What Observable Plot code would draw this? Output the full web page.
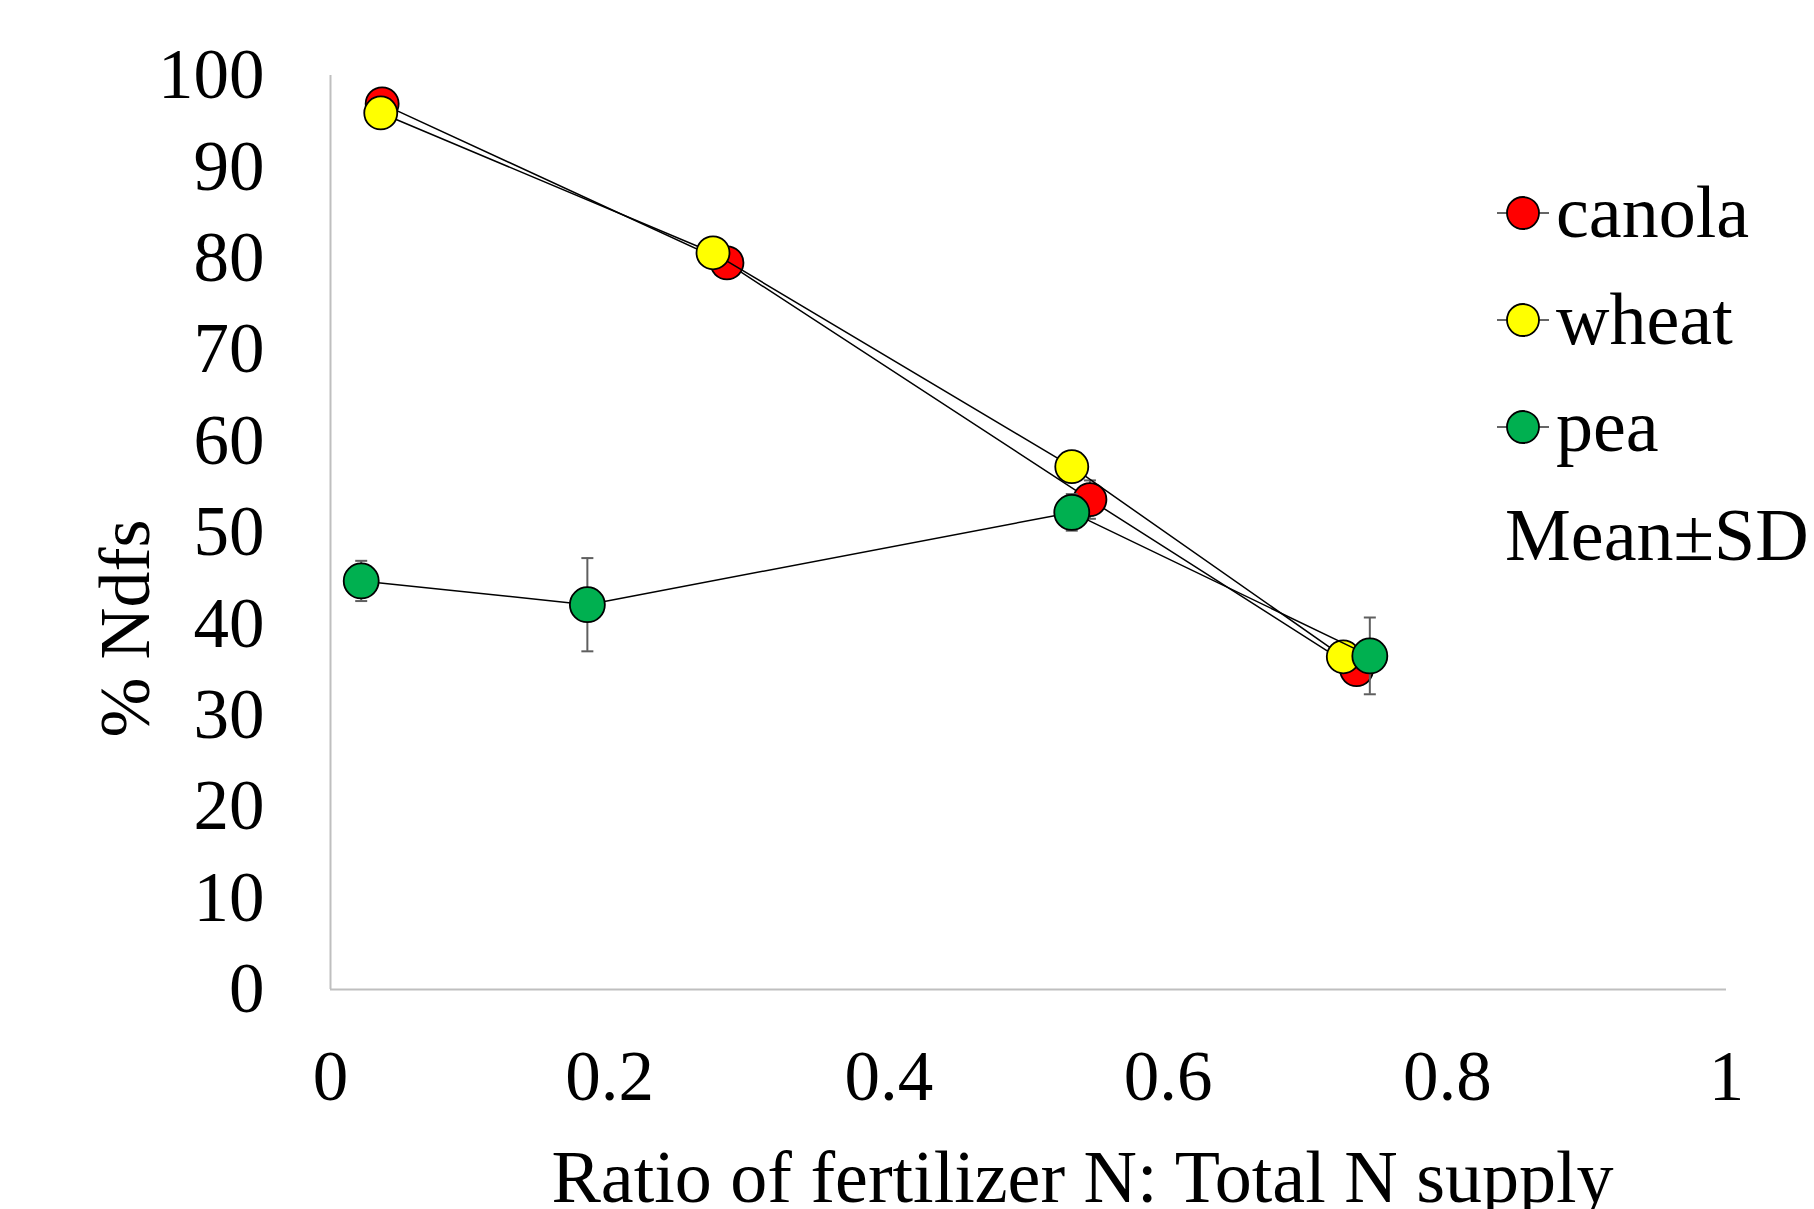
<!DOCTYPE html>
<html>
<head>
<meta charset="utf-8">
<script src="https://cdn.jsdelivr.net/npm/d3@7"></script>
<script src="https://cdn.jsdelivr.net/npm/@observablehq/plot@0.6"></script>
<style>
  html, body { margin: 0; padding: 0; background: #ffffff; }
  #chart { width: 1814px; height: 1209px; overflow: hidden; }
</style>
</head>
<body>
<div id="chart"></div>
<script>
// ---- data ----
const crops = ["canola", "wheat", "pea"];
const cropColors = ["#ff0000", "#ffff00", "#00b050"];

const canolaX = [0.037, 0.284, 0.544, 0.735];
const canolaY = [96.9, 79.5, 53.6, 35.0];
const canolaSD = [0.5, 0.5, 2.1, 1.0];

const wheatX = [0.036, 0.274, 0.531, 0.7255];
const wheatY = [95.9, 80.6, 57.2, 36.4];
const wheatSD = [0.5, 0.5, 1.0, 1.0];

const peaX = [0.022, 0.184, 0.531, 0.7445];
const peaY = [44.7, 42.1, 52.2, 36.5];
const peaSD = [2.2, 5.1, 2.0, 4.2];

const xTicks = [0, 0.2, 0.4, 0.6, 0.8, 1];
const xTickLabels = ["0", "0.2", "0.4", "0.6", "0.8", "1"];
const yTicks = [0, 10, 20, 30, 40, 50, 60, 70, 80, 90, 100];
const yTickLabels = ["0", "10", "20", "30", "40", "50", "60", "70", "80", "90", "100"];

const xTitle = "Ratio of fertilizer N: Total N supply";
const yTitle = "% Ndfs";
const legendNote = "Mean\u00b1SD";

// ---- build rows ----
const seriesX = [canolaX, wheatX, peaX];
const seriesY = [canolaY, wheatY, peaY];
const seriesSD = [canolaSD, wheatSD, peaSD];
const rows = [];
crops.forEach((c, k) => {
  seriesX[k].forEach((x, i) => {
    rows.push({crop: c, x, y: seriesY[k][i], lo: seriesY[k][i] - seriesSD[k][i], hi: seriesY[k][i] + seriesSD[k][i]});
  });
});

const font = '"Liberation Serif", "Times New Roman", Times, serif';
const capSymbol = {
  draw(context, size) {
    const w = Math.sqrt(size / Math.PI);
    context.moveTo(-w, 0);
    context.lineTo(w, 0);
  }
};

const marks = [
  Plot.ruleX([0], {y1: 0, y2: 100, stroke: "#bfbfbf", strokeWidth: 2}),
  Plot.ruleY([0], {x1: 0, x2: 1, stroke: "#bfbfbf", strokeWidth: 2}),
  Plot.axisY({ticks: yTicks, tickFormat: (d, i) => yTickLabels[i], tickSize: 0, tickPadding: 66, fontSize: 71, fontFamily: font, fill: "#000", label: null}),
  Plot.axisX({ticks: xTicks, tickFormat: (d, i) => xTickLabels[i], tickSize: 0, tickPadding: 60, fontSize: 71, fontFamily: font, fill: "#000", label: null}),
  Plot.text([yTitle], {frameAnchor: "left", rotate: -90, dx: -182, dy: 96, lineAnchor: "bottom", textAnchor: "middle", fontSize: 72, fontFamily: font, fill: "#000"}),
  Plot.text([xTitle], {frameAnchor: "bottom", dx: 54, dy: 212, lineAnchor: "bottom", textAnchor: "middle", fontSize: 74, fontFamily: font, fill: "#000"})
];

crops.forEach((c, k) => {
  const d = rows.filter(r => r.crop === c);
  marks.push(
    Plot.ruleX(d, {x: "x", y1: "lo", y2: "hi", stroke: "#5f5f5f", strokeWidth: 2}),
    Plot.dot(d, {x: "x", y: "hi", symbol: capSymbol, r: 6, stroke: "#5f5f5f", strokeWidth: 2, fill: "none"}),
    Plot.dot(d, {x: "x", y: "lo", symbol: capSymbol, r: 6, stroke: "#5f5f5f", strokeWidth: 2, fill: "none"}),
    Plot.line(d, {x: "x", y: "y", stroke: "#000", strokeWidth: 1.5}),
    Plot.dot(d, {x: "x", y: "y", r: c === "pea" ? 17.5 : 16.5, fill: cropColors[k], stroke: "#000", strokeWidth: 1.8})
  );
});

const svg = Plot.plot({
  width: 1814,
  height: 1209,
  marginLeft: 330,
  marginRight: 88,
  marginTop: 75,
  marginBottom: 220,
  x: {domain: [0, 1]},
  y: {domain: [0, 100]},
  style: {fontFamily: font, background: "#fff", color: "#000", overflow: "visible"},
  marks
});

// ---- legend ----
const g = d3.select(svg).append("g")
  .attr("font-family", font)
  .attr("font-size", 74)
  .attr("text-anchor", "start")
  .attr("fill", "#000");
crops.forEach((c, k) => {
  const base = 237 + k * 107;
  const cy = base - 24;
  g.append("line").attr("x1", 1497).attr("x2", 1549).attr("y1", cy).attr("y2", cy).attr("stroke", "#333").attr("stroke-width", 1.5);
  g.append("circle").attr("cx", 1523).attr("cy", cy).attr("r", 16).attr("fill", cropColors[k]).attr("stroke", "#000").attr("stroke-width", 1.8);
  g.append("text").attr("x", 1556).attr("y", base).attr("text-anchor", "start").text(c);
});
g.append("text").attr("x", 1505).attr("y", 560).attr("text-anchor", "start").text(legendNote);

document.getElementById("chart").appendChild(svg);
</script>
</body>
</html>
